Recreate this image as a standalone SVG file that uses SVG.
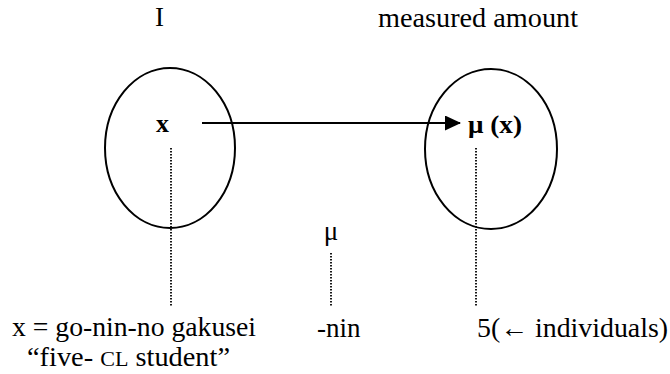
<svg xmlns="http://www.w3.org/2000/svg" width="670" height="374" viewBox="0 0 670 374">
  <style>
    text { font-family: "Liberation Serif", "Times New Roman", "DejaVu Serif", serif; font-size: 27px; fill: #000; }
    .b { font-weight: bold; font-size: 26px; }
    .set { fill: none; stroke: #000; stroke-width: 2; }
    .dot { stroke: #000; stroke-width: 1.8; stroke-dasharray: 1.5 1.5; fill: none; }
    .arr { stroke: #000; stroke-width: 2.2; fill: none; }
  </style>
  <defs>
    <marker id="head" markerUnits="userSpaceOnUse" markerWidth="18" markerHeight="18" refX="15" refY="7.5" orient="auto">
      <path d="M0,0 L16,7.5 L0,15 Z" fill="#000"/>
    </marker>
  </defs>

  <g id="label-I"><text x="155" y="26">I</text></g>
  <g id="label-measured"><text x="378" y="27" textLength="200" lengthAdjust="spacingAndGlyphs">measured amount</text></g>

  <g id="set-left">
    <ellipse class="set" cx="170" cy="148" rx="65" ry="80"/>
    <text class="b" x="156" y="132">x</text>
  </g>
  <g id="set-right">
    <ellipse class="set" cx="491" cy="149" rx="66" ry="80"/>
    <text class="b" x="468" y="133" textLength="54" lengthAdjust="spacingAndGlyphs">μ (x)</text>
  </g>
  <g id="mu-mid"><text x="331" y="240" text-anchor="middle">μ</text></g>

  <g id="connectors">
    <line class="arr" x1="202" y1="123" x2="460" y2="123" marker-end="url(#head)"/>
    <line class="dot" x1="171" y1="148" x2="171" y2="307"/>
    <line class="dot" x1="331" y1="253" x2="331" y2="307"/>
    <line class="dot" x1="476" y1="148" x2="476" y2="307"/>
  </g>

  <g id="label-x-eq">
    <text x="12" y="336" textLength="244" lengthAdjust="spacingAndGlyphs">x = go-nin-no gakusei</text>
    <text x="27" y="366" textLength="203" lengthAdjust="spacingAndGlyphs">“five- <tspan font-size="21">CL</tspan> student”</text>
  </g>
  <g id="label-nin"><text x="317" y="337">-nin</text></g>
  <g id="label-5"><text x="477" y="337" textLength="191" lengthAdjust="spacingAndGlyphs">5(← individuals)</text></g>
</svg>
